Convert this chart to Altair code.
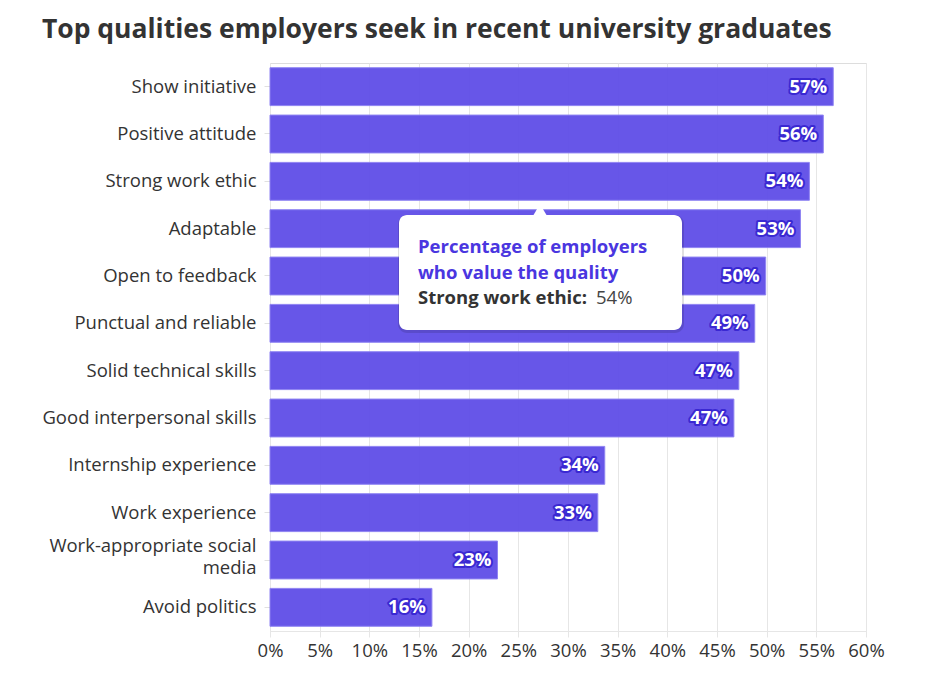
import altair as alt
import pandas as pd

categories = [
    "Show initiative", "Positive attitude", "Strong work ethic", "Adaptable",
    "Open to feedback", "Punctual and reliable", "Solid technical skills",
    "Good interpersonal skills", "Internship experience", "Work experience",
    "Work-appropriate social media", "Avoid politics",
]
values = [56.7, 55.7, 54.3, 53.4, 49.9, 48.8, 47.2, 46.7, 33.7, 33.0, 22.9, 16.3]
x_ticks = [0, 5, 10, 15, 20, 25, 30, 35, 40, 45, 50, 55, 60]

tip_category = "Strong work ethic"
tip_value = values[categories.index(tip_category)]
tip_title = ["Percentage of employers", "who value the quality"]

df = pd.DataFrame({"quality": categories, "value": values})
df["label"] = df["value"].round(0).astype(int).astype(str) + "%"

FONT = "Open Sans"
BAR = "#6150e8"
FS = 18.5

y_enc = alt.Y(
    "quality:N", sort=categories, title=None,
    scale=alt.Scale(paddingInner=0.2, paddingOuter=0.1),
    axis=alt.Axis(
        labelFont=FONT, labelFontSize=FS, labelColor="#333333",
        labelPadding=8, tickSize=6, tickColor="#e0e0e0", domain=False,
        grid=False, labelLimit=300, labelLineHeight=22,
        labelOffset={"condition": {"test": "datum.value == 'Work-appropriate social media'", "value": -14}, "value": 0},
        labelExpr="datum.label == 'Work-appropriate social media' ? ['Work-appropriate social', 'media'] : datum.label",
    ),
)
x_enc = alt.X(
    "value:Q", title=None,
    scale=alt.Scale(domain=[0, 60], nice=False),
    axis=alt.Axis(
        values=x_ticks, labelExpr="datum.value + '%'",
        labelFont=FONT, labelFontSize=FS, labelColor="#333333",
        labelOverlap=False, labelFlush=False,
        grid=True, gridColor="#e6e6e6", domainColor="#e6e6e6",
        tickColor="#e6e6e6", tickSize=6, labelPadding=4,
    ),
)

bars = alt.Chart(df).mark_bar(
    color=BAR, opacity=0.96, stroke="#8b7ff2", strokeWidth=1
).encode(x=x_enc, y=y_enc)

halo = alt.Chart(df).mark_text(
    align="right", baseline="middle", dx=-6, font=FONT, fontSize=FS,
    fontWeight="bold", color="#3a28d2", stroke="#3a28d2", strokeWidth=4,
    strokeJoin="round",
).encode(x="value:Q", y=alt.Y("quality:N", sort=categories), text="label:N")

labels = alt.Chart(df).mark_text(
    align="right", baseline="middle", dx=-6, font=FONT, fontSize=FS,
    fontWeight="bold", color="white",
).encode(x="value:Q", y=alt.Y("quality:N", sort=categories), text="label:N")

# Tooltip annotation (box in plot-pixel coordinates)
tip_df = pd.DataFrame({"quality": [tip_category], "value": [tip_value]})
base_tip = alt.Chart(tip_df)

shadow = base_tip.mark_rect(color="#000000", opacity=0.12, cornerRadius=9).encode(
    x=alt.value(128), x2=alt.value(414), y=alt.value(152), y2=alt.value(270)
)
box = base_tip.mark_rect(color="white", cornerRadius=8).encode(
    x=alt.value(129), x2=alt.value(412), y=alt.value(152), y2=alt.value(267)
)
arrow = base_tip.mark_point(
    shape="triangle-up", filled=True, color="white", size=200, opacity=1
).encode(x=alt.value(270), y=alt.value(147))

line1 = base_tip.mark_text(
    align="left", baseline="alphabetic", font=FONT, fontSize=FS,
    fontWeight="bold", color="#4a36e0", lineHeight=26,
).encode(x=alt.value(148), y=alt.value(190), text=alt.value(tip_title))

line3a = base_tip.mark_text(
    align="left", baseline="alphabetic", font=FONT, fontSize=FS,
    fontWeight="bold", color="#333333",
).encode(x=alt.value(148), y=alt.value(241), text=alt.value(tip_category + ":"))
line3b = base_tip.mark_text(
    align="left", baseline="alphabetic", font=FONT, fontSize=FS,
    color="#444444",
).encode(x=alt.value(326), y=alt.value(241), text=alt.value(f"{round(tip_value)}%"))

chart = alt.layer(
    bars, halo, labels, shadow, box, arrow, line1, line3a, line3b
).properties(
    width=596, height=568,
    title=alt.TitleParams(
        "Top qualities employers seek in recent university graduates",
        anchor="start", frame="bounds", font=FONT, fontSize=26.5,
        fontWeight="bold", color="#333333", offset=20,
    ),
    padding={"left": 33, "top": 8, "right": 10, "bottom": 10},
).configure_view(stroke=None).configure(background="white")

chart.save("out.html", embed_options={"renderer": "svg", "actions": False})
